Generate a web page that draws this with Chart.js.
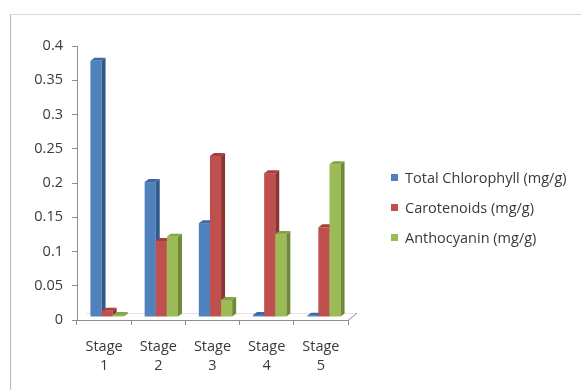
<!DOCTYPE html>
<html>
<head>
<meta charset="utf-8">
<title>Pigment content by stage</title>
<script src="https://cdn.jsdelivr.net/npm/chart.js@4/dist/chart.umd.min.js"></script>
<style>
  html, body { margin: 0; padding: 0; background: #fff; }
  #wrap { position: relative; width: 581px; height: 390px; overflow: hidden; background: #fff; }
  #frame { position: absolute; left: 10px; top: 14px; right: -2px; bottom: -2px;
           border-top: 1px solid #d9d9d9; border-left: 1px solid #b8b8b8; }
  #chart { position: absolute; left: 0; top: 0; }
  #legend { position: absolute; left: 391px; top: 162px; font-family: "Open Sans", sans-serif;
            font-size: 14.5px; color: #3a3a3a; }
  #legend .item { height: 30px; display: flex; align-items: center; white-space: nowrap; }
  #legend .box { width: 7px; height: 7px; margin-right: 7px; flex: none; }
</style>
</head>
<body>
<div id="wrap">
  <div id="frame"></div>
  <canvas id="chart" width="581" height="390"></canvas>
  <div id="legend"></div>
</div>
<script>
// Growth stages on the category axis (two-line labels)
const stages = [["Stage", "1"], ["Stage", "2"], ["Stage", "3"], ["Stage", "4"], ["Stage", "5"]];

// Pigment contents, mg/g
const chlorophyll = [0.374, 0.197, 0.137, 0.003, 0.002];
const carotenoids = [0.009, 0.111, 0.235, 0.210, 0.131];
const anthocyanin = [0.003, 0.117, 0.025, 0.121, 0.223];

const seriesNames = ["Total Chlorophyll (mg/g)", "Carotenoids (mg/g)", "Anthocyanin (mg/g)"];
const yTickLabels = ["0", "0.05", "0.1", "0.15", "0.2", "0.25", "0.3", "0.35", "0.4"];

// Face colours: front, right side, top
const frontColors = ["#4f81bd", "#c0504d", "#9bbb59"];
const sideColors  = ["#30598c", "#8c3431", "#6e8a38"];
const topColors   = ["#3d6aa3", "#a5403d", "#86a348"];

const AXIS = "#8e8e8e";
const TEXT = "#3a3a3a";
const FONT = "'Open Sans', sans-serif";

// Columns stand in the middle of a shallow floor: the front face is pushed
// back (right and up) by half the floor depth, then extruded with a right
// side and a top face. Painted category by category so that each series
// covers the side of the one before it.
const columnDepth = {
  id: "columnDepth",
  afterDatasetsDraw(chart) {
    const ctx = chart.ctx;
    const floor = { dx: 9, dy: 7 };   // full floor depth
    const push = { dx: 3, dy: 3 };    // where the columns stand on it
    const dx = 4, dy = 3;             // column depth
    const metas = chart.data.datasets.map((d, i) => chart.getDatasetMeta(i));
    const area = chart.chartArea;

    ctx.save();
    ctx.lineWidth = 1;
    // back edge of the floor
    ctx.strokeStyle = "#e6e6e6";
    ctx.beginPath();
    ctx.moveTo(area.left + floor.dx, area.bottom - floor.dy + 0.5);
    ctx.lineTo(area.right + floor.dx, area.bottom - floor.dy + 0.5);
    ctx.stroke();
    // receding right corner of the floor
    ctx.strokeStyle = AXIS;
    ctx.beginPath();
    ctx.moveTo(area.right, area.bottom + 0.5);
    ctx.lineTo(area.right + floor.dx, area.bottom - floor.dy);
    ctx.stroke();

    for (let j = 0; j < chart.data.labels.length; j++) {
      metas.forEach((meta, i) => {
        const el = meta.data[j];
        const p = el.getProps(["x", "y", "base", "width"], true);
        const l = p.x - p.width / 2 + push.dx, r = l + p.width;
        const y = p.y - push.dy, base = p.base - push.dy;
        ctx.fillStyle = frontColors[i];
        ctx.fillRect(l, y, p.width, base - y);
        ctx.fillStyle = sideColors[i];
        ctx.beginPath();
        ctx.moveTo(r, y);
        ctx.lineTo(r + dx, y - dy);
        ctx.lineTo(r + dx, base - dy);
        ctx.lineTo(r, base);
        ctx.closePath();
        ctx.fill();
        ctx.fillStyle = topColors[i];
        ctx.beginPath();
        ctx.moveTo(l, y);
        ctx.lineTo(r, y);
        ctx.lineTo(r + dx, y - dy);
        ctx.lineTo(l + dx, y - dy);
        ctx.closePath();
        ctx.fill();
      });
    }
    ctx.restore();
  }
};

const values = [chlorophyll, carotenoids, anthocyanin];

new Chart(document.getElementById("chart"), {
  type: "bar",
  data: {
    labels: stages,
    datasets: values.map((v, i) => ({
      label: seriesNames[i],
      data: v,
      // the flat bars are replaced by the extruded columns above
      backgroundColor: "rgba(0,0,0,0)",
      borderWidth: 0,
      categoryPercentage: 0.615,
      barPercentage: 1
    }))
  },
  options: {
    responsive: false,
    animation: false,
    devicePixelRatio: 1,
    layout: { padding: { top: 46, right: 233, bottom: 0, left: 0 } },
    plugins: { legend: { display: false }, tooltip: { enabled: false } },
    scales: {
      x: {
        grid: { drawOnChartArea: false, drawTicks: true, tickLength: 5, color: AXIS, offset: true },
        border: { color: AXIS },
        ticks: { color: TEXT, font: { family: FONT, size: 14.5, lineHeight: 1.31 }, padding: 12, maxRotation: 0 },
        afterFit(scale) { scale.height = 70; }
      },
      y: {
        min: 0,
        max: 0.4,
        grid: { drawOnChartArea: false, drawTicks: true, tickLength: 5, color: AXIS },
        border: { color: AXIS },
        ticks: {
          stepSize: 0.05,
          color: TEXT,
          font: { family: FONT, size: 14.5 },
          padding: 9,
          callback: (value, index) => yTickLabels[index]
        },
        afterFit(scale) { scale.width = 77; }
      }
    }
  },
  plugins: [columnDepth]
});

// Legend
const legend = document.getElementById("legend");
seriesNames.forEach((name, i) => {
  const item = document.createElement("div");
  item.className = "item";
  const box = document.createElement("span");
  box.className = "box";
  box.style.background = frontColors[i];
  const label = document.createElement("span");
  label.textContent = name;
  item.appendChild(box);
  item.appendChild(label);
  legend.appendChild(item);
});
</script>
</body>
</html>
